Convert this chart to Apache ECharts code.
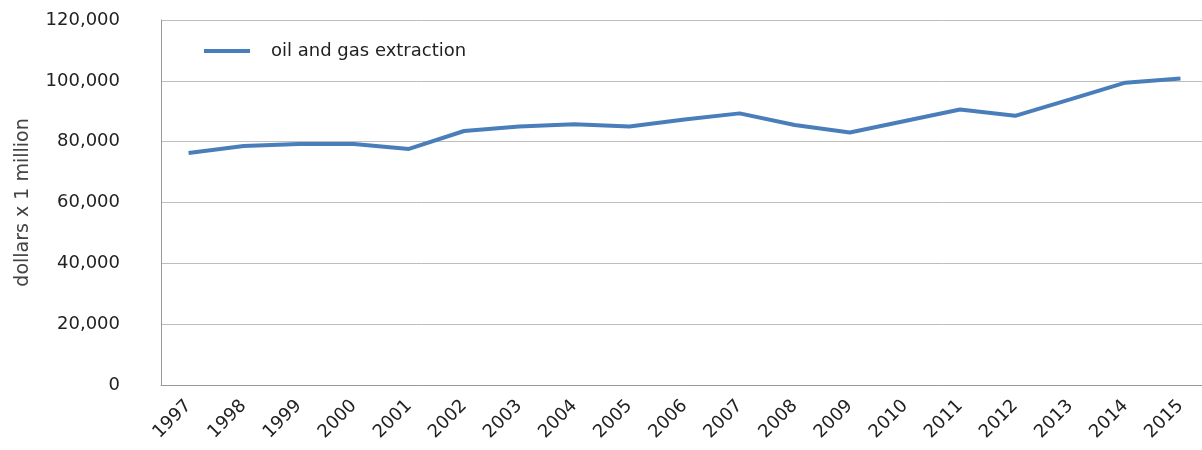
<!DOCTYPE html>
<html>
<head>
<meta charset="utf-8">
<script src="https://cdn.jsdelivr.net/npm/echarts@6/dist/echarts.min.js"></script>
<style>
  html, body { margin: 0; padding: 0; background: #fff; }
  #chart { width: 1202px; height: 450px; }
</style>
</head>
<body>
<div id="chart"></div>
<script>
// years on the x axis
var years = ['1997', '1998', '1999', '2000', '2001', '2002', '2003', '2004', '2005', '2006',
  '2007', '2008', '2009', '2010', '2011', '2012', '2013', '2014', '2015']
// oil and gas extraction, dollars x 1 million
var oilGas = [76300, 78600, 79200, 79200, 77600, 83500, 85000, 85700, 85000, 87300,
  89300, 85500, 83000, 86800, 90600, 88500, 93900, 99400, 100800]
var seriesName = 'oil and gas extraction'
var yTicks = [0, 20000, 40000, 60000, 80000, 100000, 120000]

var font = '"DejaVu Sans", sans-serif'
var myChart = echarts.init(document.getElementById('chart'))

var option = {
  animation: false,
  textStyle: { fontFamily: font },
  legend: {
    data: [{ name: seriesName, icon: 'rect' }],
    left: 199,
    top: 37,
    itemWidth: 46,
    itemHeight: 4,
    textStyle: { fontSize: 18, color: '#222', fontFamily: font, padding: [0, 0, 0, 16] }
  },
  grid: { left: 161, top: 20, width: 1047, height: 365, outerBoundsMode: 'none', containLabel: false },
  xAxis: {
    type: 'category',
    data: years,
    boundaryGap: true,
    axisLine: { lineStyle: { color: '#999', width: 1 } },
    axisTick: { show: false },
    axisLabel: {
      rotate: 45,
      fontSize: 18,
      color: '#222',
      margin: 18,
      fontFamily: font
    }
  },
  yAxis: {
    type: 'value',
    min: yTicks[0],
    max: yTicks[yTicks.length - 1],
    interval: 20000,
    name: 'dollars x 1 million',
    nameLocation: 'middle',
    nameGap: 128,
    nameTextStyle: { fontSize: 19, color: '#444', fontFamily: font },
    axisLine: { show: true, lineStyle: { color: '#999' } },
    axisTick: { show: false },
    splitLine: { lineStyle: { color: '#bdbdbd', width: 1 } },
    axisLabel: {
      fontSize: 18,
      color: '#222',
      margin: 41,
      padding: [4, 0, 0, 0],
      fontFamily: font,
      formatter: function (v) { return v === 0 ? '0' : v.toLocaleString('en-US') }
    }
  },
  series: [{
    name: seriesName,
    type: 'line',
    data: oilGas,
    showSymbol: false,
    symbol: 'none',
    lineStyle: { color: '#4a7ebb', width: 4 },
    itemStyle: { color: '#4a7ebb' }
  }]
}
myChart.setOption(option)
</script>
</body>
</html>
